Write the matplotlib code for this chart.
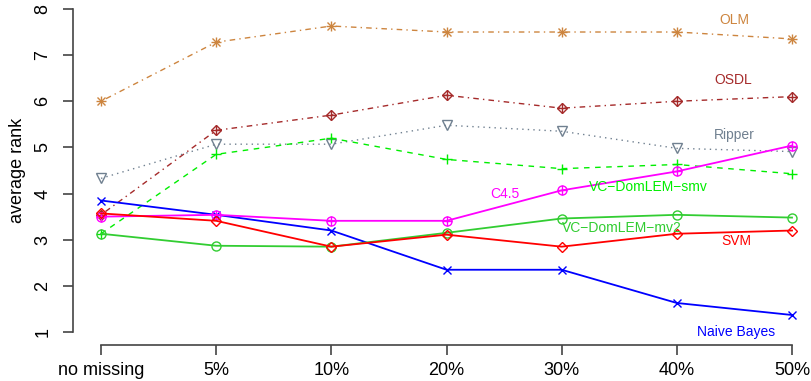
import matplotlib.pyplot as plt

plt.rcParams['font.family'] = ['Liberation Sans', 'DejaVu Sans']

categories = ["no missing", "5%", "10%", "20%", "30%", "40%", "50%"]

olm = [6.0, 7.28, 7.63, 7.5, 7.5, 7.5, 7.35]
osdl = [3.54, 5.37, 5.70, 6.13, 5.85, 6.0, 6.1]
ripper = [4.33, 5.07, 5.07, 5.48, 5.35, 4.98, 4.91]
vc_smv = [3.13, 4.85, 5.2, 4.74, 4.54, 4.63, 4.43]
naive_bayes = [3.85, 3.54, 3.2, 2.35, 2.35, 1.63, 1.37]
c45 = [3.5, 3.54, 3.41, 3.41, 4.07, 4.48, 5.04]
vc_mv2 = [3.13, 2.87, 2.85, 3.15, 3.46, 3.54, 3.48]
svm = [3.57, 3.41, 2.85, 3.11, 2.85, 3.13, 3.2]

x = list(range(len(categories)))

fig = plt.figure(figsize=(8.12, 3.81), dpi=100)
ax = fig.add_axes([73.4 / 812, 36 / 381, (812 - 73.4) / 812, 349 / 381])

# (values, colour, linestyle, linewidth, markers, label, label x, label y)
series = [
    (olm, "#CD853F", (0, (1, 3, 4, 3)), 1.0, ["+", "x"], "OLM", 5.50, 7.76),
    (osdl, "#A52A2A", (0, (1, 3, 4, 3)), 1.0, ["D", "+"], "OSDL", 5.49, 6.46),
    (ripper, "#708090", (0, (1, 3)), 1.0, ["v"], "Ripper", 5.50, 5.26),
    (vc_smv, "#00EE00", (0, (4, 4)), 1.0, ["+"], "VC\u2212DomLEM\u2212smv", 4.75, 4.15),
    (naive_bayes, "#0000FF", "-", 1.3, ["x"], "Naive Bayes", 5.51, 1.0),
    (c45, "#FF00FF", "-", 1.3, ["o", "+"], "C4.5", 3.51, 4.0),
    (vc_mv2, "#32CD32", "-", 1.3, ["o"], "VC\u2212DomLEM\u2212mv2", 4.52, 3.26),
    (svm, "#FF0000", "-", 1.3, ["D"], "SVM", 5.52, 2.98),
]

sizes = {"D": 5.5, "o": 6.5, "v": 7, "+": 6.5, "x": 5.5}

for vals, col, ls, lw, marks, lab, lx, ly in series:
    ax.plot(x, vals, color=col, linestyle=ls, linewidth=lw)
    for m in marks:
        ax.plot(x, vals, linestyle="none", marker=m, markersize=sizes[m],
                markerfacecolor="none", markeredgecolor=col, markeredgewidth=1.0)
    ax.text(lx, ly, lab, color=col, fontsize=10, ha="center", va="center", zorder=10)

ax.set_xlim(-0.24, 6.0 + 20 / 115.17)
ax.set_ylim(0.72, 8.28)

ax.spines["top"].set_visible(False)
ax.spines["right"].set_visible(False)
for s in ("left", "bottom"):
    ax.spines[s].set_color("#444444")
    ax.spines[s].set_linewidth(1.2)
ax.spines["left"].set_bounds(1, 8)
ax.spines["bottom"].set_bounds(0, 6)

ax.set_xticks(x)
ax.set_xticklabels(categories)
ax.set_yticks(range(1, 9))
ax.set_yticklabels([str(v) for v in range(1, 9)], rotation=90, va="center")
ax.tick_params(axis="both", direction="out", length=7, width=1.2, color="#444444",
               labelsize=13, pad=5)
ax.tick_params(axis="y", pad=9)
ax.set_ylabel("average rank", fontsize=13, labelpad=6)

fig.savefig("out.png", dpi=100)
